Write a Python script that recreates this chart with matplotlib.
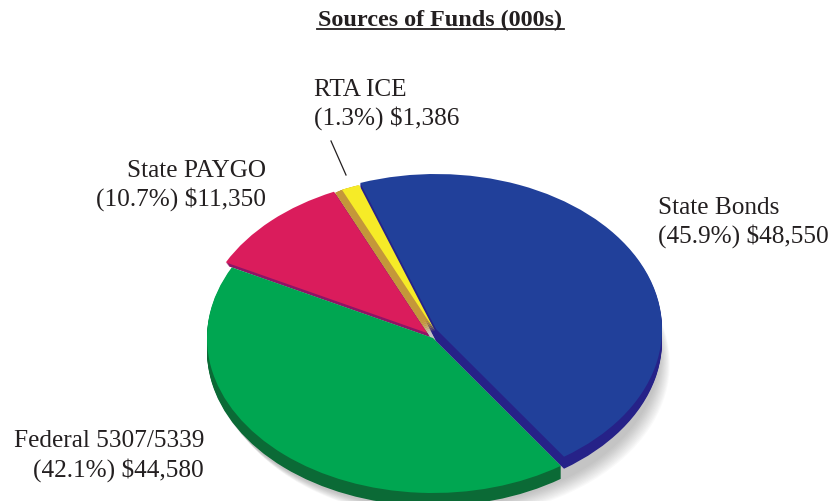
import matplotlib
matplotlib.use('Agg')
import matplotlib.pyplot as plt

plt.rcParams['font.family'] = ['Liberation Serif', 'DejaVu Serif']

# State Bonds, RTA ICE, State PAYGO, Federal 5307/5339
values = [48550, 1386, 11350, 44580]
top_colors = ['#21409A', '#F6EB27', '#DA1C5C', '#00A651']
side_colors = ['#262288', '#C4973A', '#8E1466', '#0B6A36']

W, H = 833, 502
cx, cy = 433, 339
rx, ry = 226, 155
start = -55.5

# slice position (pixels from the pie centre) and the direction of its side face
offsets = [(3, -9), (2, -7), (-6, -5), (0, 0)]
sides = [(0, 12), (-7, 3), (3, 4), (0, 13)]

fig = plt.figure(figsize=(W / 100, H / 100), dpi=100)
ax = fig.add_axes([0, 0, 1, 1])

z = 5


def one_slice(i, dx, dy, color):
    # pie with only slice i visible, so the stacking can be controlled
    global z
    cols = ['none'] * 4
    cols[i] = color
    wedges, _ = ax.pie(values, colors=cols, startangle=start, radius=1,
                       center=(dx / rx, -dy / ry))
    for w in wedges:
        w.set_linewidth(0)
        w.set_zorder(z)
    z += 0.01


def side_face(i):
    ox, oy = offsets[i]
    sx, sy = sides[i]
    steps = max(abs(sx), abs(sy))
    for s in range(steps, 0, -1):
        one_slice(i, ox + sx * s / steps, oy + sy * s / steps, side_colors[i])


def top_face(i):
    one_slice(i, offsets[i][0], offsets[i][1], top_colors[i])


# soft shadow under the pie
for k in range(12, 0, -1):
    wedges, _ = ax.pie([sum(values)], colors=['#555555'], radius=1,
                       center=(k * 0.9 / rx, (-14 - k) / ry))
    wedges[0].set_alpha(0.03)
    wedges[0].set_linewidth(0)
    wedges[0].set_zorder(1)

side_face(2)
top_face(2)
side_face(3)
top_face(3)
side_face(0)
side_face(1)
top_face(1)
top_face(0)

ax.set_aspect('auto')
ax.set_xlim(-cx / rx, (W - cx) / rx)
ax.set_ylim(-(H - cy) / ry, cy / ry)
ax.axis('off')

# pixel coordinates for the text
tx = fig.add_axes([0, 0, 1, 1])
tx.set_xlim(0, W)
tx.set_ylim(H, 0)
tx.axis('off')
tx.patch.set_alpha(0)

ink = '#231F20'
tx.text(440.5, 20, 'Sources of Funds (000s)', fontsize=17.4, fontweight='bold', ha='center', va='center', color=ink)
tx.plot([317, 564], [29.5, 29.5], color=ink, lw=1.3)

fs = 18.2
tx.text(314, 90, 'RTA ICE', fontsize=fs, ha='left', va='center', color=ink)
tx.text(314, 118.5, '(1.3%) $1,386', fontsize=fs, ha='left', va='center', color=ink)
tx.plot([331, 346], [142, 176], color=ink, lw=0.9)
tx.text(266, 171, 'State PAYGO', fontsize=fs, ha='right', va='center', color=ink)
tx.text(266, 199.5, '(10.7%) $11,350', fontsize=fs, ha='right', va='center', color=ink)
tx.text(658, 208, 'State Bonds', fontsize=fs, ha='left', va='center', color=ink)
tx.text(658, 236.5, '(45.9%) $48,550', fontsize=fs, ha='left', va='center', color=ink)
tx.text(204, 441, 'Federal 5307/5339', fontsize=fs, ha='right', va='center', color=ink)
tx.text(204, 470, '(42.1%) $44,580', fontsize=fs, ha='right', va='center', color=ink)

plt.savefig('out.png', dpi=100)
